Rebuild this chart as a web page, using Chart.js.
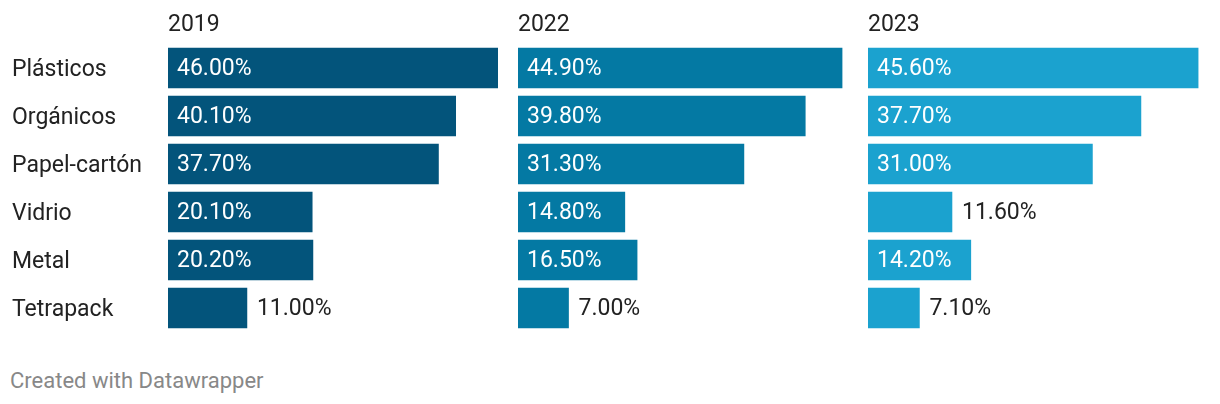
<!DOCTYPE html>
<html>
<head>
<meta charset="utf-8">
<script src="https://cdn.jsdelivr.net/npm/chart.js@4"></script>
<style>
  body { margin: 0; background: #fff; width: 1220px; height: 404px; position: relative; overflow: hidden; font-family: Roboto, sans-serif; }
  .panel { position: absolute; top: 0; height: 360px; }
  #footer { position: absolute; left: 10px; top: 368px; font-size: 22px; line-height: 26px; color: #888; }
</style>
</head>
<body>
<div class="panel" style="left:0;width:508px"><canvas id="c2019"></canvas></div>
<div class="panel" style="left:508px;width:350px"><canvas id="c2022"></canvas></div>
<div class="panel" style="left:858px;width:362px"><canvas id="c2023"></canvas></div>
<div id="footer">Created with Datawrapper</div>
<script>
const categorias = ['Plásticos', 'Orgánicos', 'Papel-cartón', 'Vidrio', 'Metal', 'Tetrapack']
const anios = ['2019', '2022', '2023']
const valores2019 = [46.0, 40.1, 37.7, 20.1, 20.2, 11.0]
const valores2022 = [44.9, 39.8, 31.3, 14.8, 16.5, 7.0]
const valores2023 = [45.6, 37.7, 31.0, 11.6, 14.2, 7.1]
const colores = ['#03547b', '#0479a3', '#1ba2cf']

const TAM = 23
const FUENTE = TAM + 'px Roboto'
const maxValor = Math.max(...valores2019, ...valores2022, ...valores2023)

// titulo del panel + etiquetas de valor dentro/fuera de la barra
const etiquetas = {
	id: 'etiquetas',
	afterDatasetsDraw(chart, args, opts) {
		const ctx = chart.ctx
		const area = chart.chartArea
		ctx.save()
		ctx.font = FUENTE
		ctx.textBaseline = 'middle'
		ctx.textAlign = 'left'
		ctx.fillStyle = '#222'
		ctx.fillText(opts.titulo, area.left, 25)

		const meta = chart.getDatasetMeta(0)
		const datos = chart.data.datasets[0].data
		meta.data.forEach((barra, i) => {
			const texto = datos[i].toFixed(2) + '%'
			const ancho = ctx.measureText(texto).width
			const largo = barra.x - barra.base
			if (largo >= ancho + 20) {
				ctx.fillStyle = '#fff'
				ctx.fillText(texto, barra.base + 9, barra.y + 1)
			} else {
				ctx.fillStyle = '#222'
				ctx.fillText(texto, barra.x + 10, barra.y + 1)
			}
		})
		ctx.restore()
	}
}

const crearPanel = (id, titulo, valores, color, conEje, padding) => {
	const ejeY = {
		display: conEje,
		grid: { display: false },
		border: { display: false },
		ticks: {
			crossAlign: 'far',
			color: '#222',
			labelOffset: 2,
			font: { family: 'Roboto', size: TAM }
		}
	}
	if (conEje) ejeY.afterFit = (scale) => { scale.width = 156 }

	return new Chart(document.getElementById(id), {
		type: 'bar',
		data: {
			labels: categorias,
			datasets: [{
				data: valores,
				backgroundColor: color,
				barThickness: 40,
				categoryPercentage: 1
			}]
		},
		options: {
			indexAxis: 'y',
			responsive: true,
			maintainAspectRatio: false,
			animation: false,
			layout: { padding: padding },
			scales: {
				x: { display: false, min: 0, max: maxValor },
				y: ejeY
			},
			plugins: {
				legend: { display: false },
				tooltip: { enabled: false },
				etiquetas: { titulo: titulo }
			}
		},
		plugins: [etiquetas]
	})
}

crearPanel('c2019', anios[0], valores2019, colores[0], true, { left: 12, right: 10, top: 44, bottom: 28 })
crearPanel('c2022', anios[1], valores2022, colores[1], false, { left: 10, right: 8, top: 44, bottom: 28 })
crearPanel('c2023', anios[2], valores2023, colores[2], false, { left: 10, right: 19, top: 44, bottom: 28 })
</script>
</body>
</html>
